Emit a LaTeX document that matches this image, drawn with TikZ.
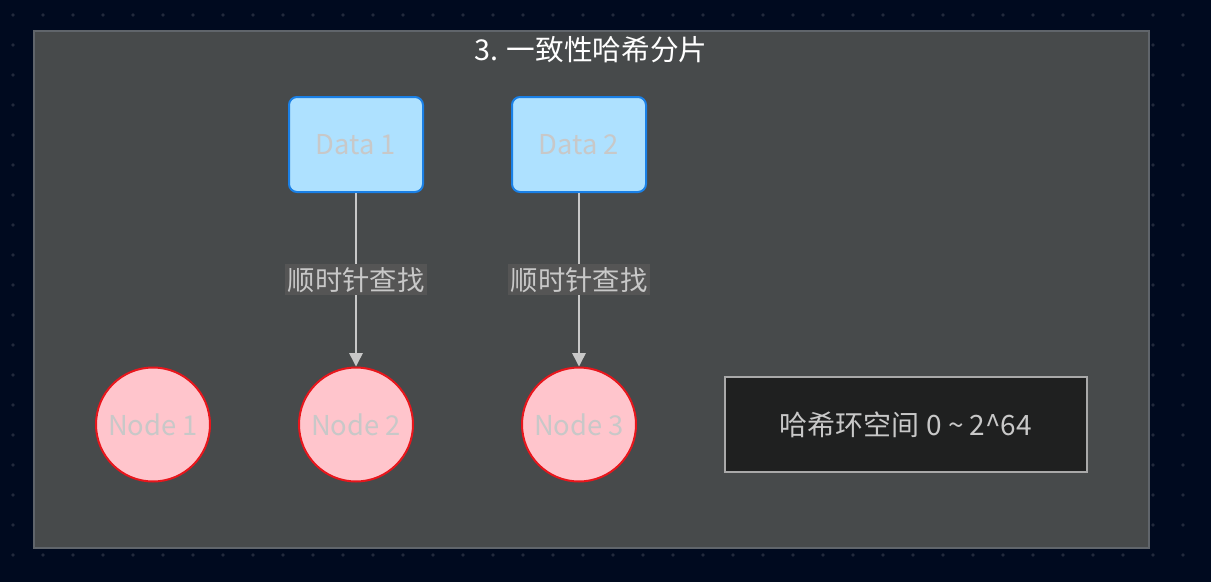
\documentclass[tikz,border=0pt]{standalone}
\usepackage{fontspec}
\setmainfont{Noto Sans CJK SC}
\usetikzlibrary{arrows.meta, positioning}

\definecolor{pagebg}{HTML}{000A1F}
\definecolor{griddot}{HTML}{222A3C}
\definecolor{clusterfill}{HTML}{474A4B}
\definecolor{clusterline}{HTML}{60656B}
\definecolor{datafill}{HTML}{AEE1FF}
\definecolor{dataline}{HTML}{1A80E6}
\definecolor{shardfill}{HTML}{FFC5CC}
\definecolor{shardline}{HTML}{E8161C}
\definecolor{softtext}{HTML}{C8C8C8}
\definecolor{labelbg}{HTML}{555555}
\definecolor{ringfill}{HTML}{1F2020}
\definecolor{ringline}{HTML}{A9A9A9}

\begin{document}
\begin{tikzpicture}[x=0.75pt, y=-0.75pt,
    datanode/.style={draw=dataline, line width=1.5pt, fill=datafill, rounded corners=6pt,
        minimum width=100.5pt, minimum height=71.25pt, text=softtext,
        font=\fontsize{20.5}{24}\selectfont},
    shardnode/.style={circle, draw=shardline, line width=1.5pt, fill=shardfill,
        minimum size=85.5pt, inner sep=0pt, text=softtext,
        font=\fontsize{20.5}{24}\selectfont},
    ringbox/.style={draw=ringline, line width=1.2pt, fill=ringfill,
        minimum width=271.5pt, minimum height=71.25pt, text=softtext,
        font=\fontsize{21}{24}\selectfont},
    lookup/.style={draw=softtext, line width=1.1pt, -{Triangle[length=10pt, width=10pt]}},
    lookuplabel/.style={fill=labelbg, text=softtext, inner sep=2pt,
        font=\fontsize{20.5}{24}\selectfont}]

    % page and dot grid
    \fill[pagebg] (0,0) rectangle (1211,582);
    \useasboundingbox (0,0) rectangle (1211,582);
    \foreach \gx in {0,...,40}
        \foreach \gy in {0,...,19}
            \fill[griddot] (13+30*\gx, 15+30*\gy) circle (1.8);

    % cluster
    \node (cluster) [draw=clusterline, line width=1.2pt, fill=clusterfill,
        minimum width=836.25pt, minimum height=387.75pt, inner sep=0pt] at (591.5,289.5) {};
    \node (title) at (591,50) [text=white, font=\fontsize{21.5}{24}\selectfont] {3. 一致性哈希分片};

    % data and shards
    \node (data1) [datanode] at (356,144.5) {Data 1};
    \node (data2) [datanode] at (579,144.5) {Data 2};
    \node (node1) [shardnode] at (153,424.5) {Node 1};
    \node (node2) [shardnode] at (356,424.5) {Node 2};
    \node (node3) [shardnode] at (579,424.5) {Node 3};
    \node (ring) [ringbox] at (906,424.5) {哈希环空间 0 \textasciitilde{} 2\textasciicircum64};

    \draw [lookup] (data1) -- node [lookuplabel] {顺时针查找} (node2);
    \draw [lookup] (data2) -- node [lookuplabel] {顺时针查找} (node3);
\end{tikzpicture}
\end{document}
